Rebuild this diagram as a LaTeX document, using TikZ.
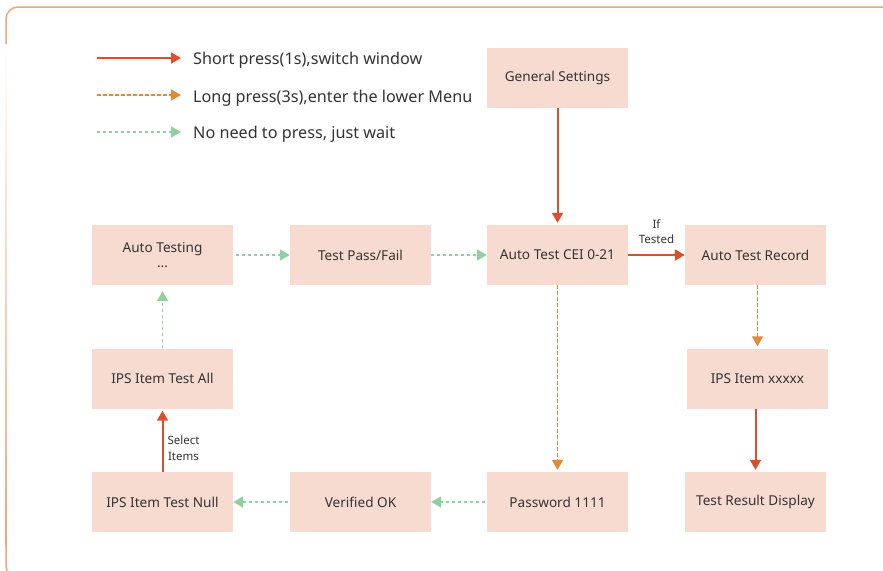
\documentclass[tikz,border=0pt]{standalone}
\usepackage{fontspec}
\setmainfont{Noto Sans}
\usetikzlibrary{arrows.meta}
\definecolor{boxfill}{HTML}{F8DBD0}
\definecolor{redarrow}{HTML}{D9502A}
\definecolor{orgarrow}{HTML}{E08A35}
\definecolor{grnarrow}{HTML}{8FCFA0}
\definecolor{frameor}{HTML}{F2A47A}
\definecolor{txt}{HTML}{333333}
\begin{document}
\begin{tikzpicture}[x=1pt,y=-1pt,
  box/.style={draw=none,fill=boxfill,minimum width=141pt,minimum height=60pt,inner sep=0pt,
    text=txt,font=\fontsize{13.6}{16.5}\selectfont,align=center},
  shortp/.style={draw=redarrow,line width=2pt,-{Triangle[length=10pt,width=11pt]}},
  longp/.style={draw=orgarrow,line width=1.7pt,dash pattern=on 3.5pt off 2.5pt,-{Triangle[length=10pt,width=11pt,fill=orgarrow]}},
  waitp/.style={draw=grnarrow,line width=1.7pt,dash pattern=on 3pt off 3pt,-{Triangle[length=10pt,width=11pt,fill=grnarrow]}},
  lgd/.style={anchor=west,text=txt,font=\fontsize{16.2}{19}\selectfont,inner sep=0pt},
  lbl/.style={text=txt,font=\fontsize{11.5}{15.5}\selectfont,align=center,inner sep=0pt}]
\useasboundingbox (0,0) rectangle (883,570);
% frame
\draw[frameor,line width=1.5pt,rounded corners=12pt] (895,7) -- (6,7) -- (6,45);
\shade[top color=white,bottom color=frameor] (5.25,44) rectangle (6.75,545);
\draw[frameor,line width=1.5pt,rounded corners=10pt] (6,544) -- (6,576) -- (895,576);
% legend
\coordinate (l1s) at (97,58); \coordinate (l1e) at (181,58);
\coordinate (l2s) at (97,95); \coordinate (l2e) at (181,95);
\coordinate (l3s) at (97,132); \coordinate (l3e) at (181,132);
\draw[shortp] (l1s) -- (l1e);
\draw[longp] (l2s) -- (l2e);
\draw[waitp] (l3s) -- (l3e);
\node[lgd] (t1) at (193,60) {Short press(1s),switch window};
\node[lgd] (t2) at (193,98) {Long press(3s),enter the lower Menu};
\node[lgd] (t3) at (193,134) {No need to press, just wait};
% boxes
\node[box] (gs) at (557.5,78) {\raisebox{-2pt}{General Settings}};
\node[box] (at) at (162.5,255) {Auto Testing\\[-1pt]…};
\node[box] (tpf) at (360.5,255) {\raisebox{-1pt}{Test Pass/Fail}};
\node[box] (cei) at (557.5,255) {\raisebox{-1pt}{Auto Test CEI 0-21}};
\node[box] (rec) at (755.5,255) {\raisebox{-1pt}{Auto Test Record}};
\node[box] (all) at (162.5,378.5) {\raisebox{-1pt}{IPS Item Test All}};
\node[box] (xx) at (757.5,378.5) {\raisebox{-1pt}{IPS Item xxxxx}};
\node[box] (null) at (162.5,502) {\raisebox{-1pt}{IPS Item Test Null}};
\node[box] (vok) at (360.5,502) {\raisebox{-1pt}{Verified OK}};
\node[box] (pw) at (557.5,502) {\raisebox{-1pt}{Password 1111}};
\node[box] (trd) at (755.5,502) {\raisebox{-1pt}{Test Result Display}};
% connectors
\draw[shortp,shorten >=2pt] (gs) -- (cei);
\draw[waitp,shorten <=3pt] (at) -- (tpf);
\draw[waitp] (tpf) -- (cei);
\draw[shortp] (cei) -- node[lbl,above=10pt] {If\\Tested} (rec);
\draw[longp,shorten >=2pt] (rec.south -| xx.north) -- (xx);
\draw[shortp,shorten >=2pt] (xx.south -| trd.north) -- (trd);
\draw[longp,shorten >=2pt] (cei) -- (pw);
\draw[waitp,shorten <=2pt] (pw) -- (vok);
\draw[waitp,shorten <=2pt] (vok) -- (null);
\draw[shortp,shorten >=2pt] (null) -- node[lbl,right=4pt,yshift=-8pt] {Select\\Items} (all);
\draw[waitp,shorten >=6pt] (all) -- (at);
\end{tikzpicture}
\end{document}
